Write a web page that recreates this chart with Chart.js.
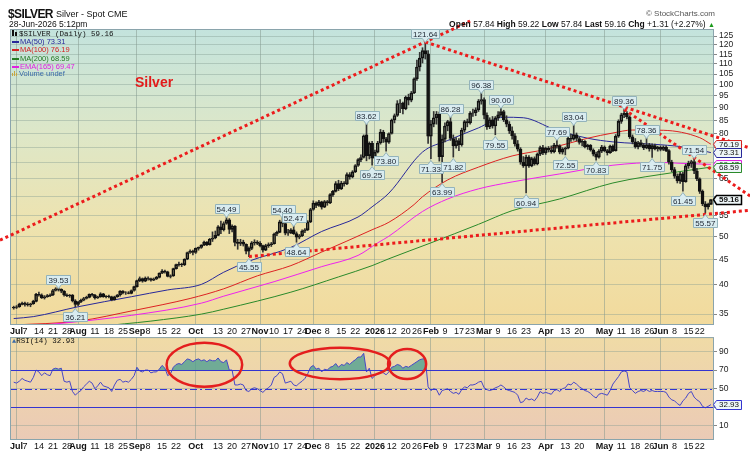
<!DOCTYPE html>
<html>
<head>
<meta charset="utf-8">
<title>$SILVER</title>
<script src="https://cdn.jsdelivr.net/npm/chart.js"></script>
<style>
  html, body { margin: 0; padding: 0; background: #fff; }
  body { position: relative; width: 750px; height: 456px; overflow: hidden; font-family: "Liberation Sans", Arial, sans-serif; color: #111; }
  canvas { position: absolute; left: 0; }
  #priceChart { top: 0; }
  #rsiChart { top: 330px; }
  .txt { position: absolute; white-space: nowrap; line-height: 1; }
  .mono { font-family: "Liberation Mono", "DejaVu Sans Mono", monospace; }
  .dash { display: inline-block; width: 7px; height: 2px; vertical-align: middle; margin-right: 1px; }
</style>
</head>
<body>
<canvas id="priceChart" width="750" height="337"></canvas>
<canvas id="rsiChart" width="750" height="126"></canvas>

<div class="txt" style="left:8px;top:8px;font-size:12px;font-weight:bold;letter-spacing:-0.6px">$SILVER</div>
<div class="txt" style="left:56px;top:10px;font-size:9px">Silver - Spot CME</div>
<div class="txt" style="left:9px;top:20px;font-size:8.5px">28-Jun-2026 5:12pm</div>
<div class="txt" style="right:35px;top:10px;font-size:8px;color:#555">&copy; StockCharts.com</div>
<div class="txt" style="right:35px;top:20px;font-size:8.5px"><b>Open</b> 57.84 <b>High</b> 59.22 <b>Low</b> 57.84 <b>Last</b> 59.16 <b>Chg</b> +1.31 (+2.27%) <span style="color:#1a9a1a;font-size:7px">&#9650;</span></div>

<div class="txt mono" style="left:12px;top:30px;font-size:7.5px"><span style="display:inline-block;width:2px;height:6px;background:#111;margin-right:1px"></span><span style="display:inline-block;width:2px;height:4px;background:#111;margin-right:2px"></span>$SILVER (Daily) 59.16</div>
<div class="txt" style="left:12px;top:38px;font-size:7.5px;color:#28289a"><span class="dash" style="background:#28289a"></span>MA(50) 73.31</div>
<div class="txt" style="left:12px;top:46px;font-size:7.5px;color:#d42020"><span class="dash" style="background:#d42020"></span>MA(100) 76.19</div>
<div class="txt" style="left:12px;top:54.5px;font-size:7.5px;color:#237a23"><span class="dash" style="background:#237a23"></span>MA(200) 68.59</div>
<div class="txt" style="left:12px;top:62.5px;font-size:7.5px;color:#e020e0"><span class="dash" style="background:#e020e0"></span>EMA(165) 69.47</div>
<div class="txt" style="left:12px;top:70px;font-size:7.5px;color:#3a6aa8"><span style="display:inline-block;width:1px;height:3px;background:#c9a640;margin-right:1px"></span><span style="display:inline-block;width:1px;height:5px;background:#c9a640;margin-right:1px"></span><span style="display:inline-block;width:1px;height:3px;background:#c9a640;margin-right:2px"></span>Volume undef</div>
<div class="txt" style="left:135px;top:75px;font-size:14px;font-weight:bold;color:#e21a1a">Silver</div>

<div class="txt mono" style="left:12px;top:338px;font-size:7.5px"><span style="color:#3a6aa8;font-size:7px">&#9650;</span>RSI(14) 32.93</div>

<script>
const FONT = '"Liberation Sans", Arial, sans-serif';

// trading days, Jun 30 2025 .. Jun 26 2026
const holidays = ['2025-07-04', '2025-09-01', '2025-11-27', '2025-12-25', '2026-01-01',
                  '2026-01-19', '2026-02-16', '2026-04-03', '2026-05-25', '2026-06-19'];
const dates = [];
for (let d = new Date(Date.UTC(2025, 5, 30)); d <= new Date(Date.UTC(2026, 5, 26)); d.setUTCDate(d.getUTCDate() + 1)) {
    const s = d.toISOString().slice(0, 10);
    if (d.getUTCDay() === 0 || d.getUTCDay() === 6 || holidays.includes(s)) continue;
    dates.push(s);
}

// x-axis tick labels (date, text); bold ones are month starts
const tickDates = ['2025-07-01', '2025-07-07', '2025-07-14', '2025-07-21', '2025-07-28', '2025-08-01', '2025-08-11', '2025-08-18', '2025-08-25',
    '2025-09-02', '2025-09-08', '2025-09-15', '2025-09-22', '2025-10-01', '2025-10-13', '2025-10-20', '2025-10-27',
    '2025-11-03', '2025-11-10', '2025-11-17', '2025-11-24', '2025-12-01', '2025-12-08', '2025-12-15', '2025-12-22',
    '2026-01-02', '2026-01-12', '2026-01-20', '2026-01-26', '2026-02-02', '2026-02-09', '2026-02-17', '2026-02-23',
    '2026-03-02', '2026-03-09', '2026-03-16', '2026-03-23', '2026-04-01', '2026-04-13', '2026-04-20',
    '2026-05-01', '2026-05-11', '2026-05-18', '2026-05-26', '2026-06-01', '2026-06-08', '2026-06-15', '2026-06-22'];
const tickText = ['Jul', '7', '14', '21', '28', 'Aug', '11', '18', '25', 'Sep', '8', '15', '22', 'Oct', '13', '20', '27',
    'Nov', '10', '17', '24', 'Dec', '8', '15', '22', '2026', '12', '20', '26', 'Feb', '9', '17', '23',
    'Mar', '9', '16', '23', 'Apr', '13', '20', 'May', '11', '18', '26', 'Jun', '8', '15', '22'];
const boldTicks = ['Jul', 'Aug', 'Sep', 'Oct', 'Nov', 'Dec', '2026', 'Feb', 'Mar', 'Apr', 'May', 'Jun'];

const priceTicks = [35, 40, 45, 50, 55, 60, 65, 70, 75, 80, 85, 90, 95, 100, 105, 110, 115, 120, 125];
const hiddenPriceTicks = [60, 70, 75];
const rsiTicks = [10, 30, 50, 70, 90];

// daily OHLC
const opens = [
    36.0, 36.1, 36.2, 36.6, 36.8, 36.6, 36.5, 36.7, 37.1, 38.3, 38.2, 37.7, 37.9, 38.1, 38.2, 39.0, 39.3, 39.2, 38.9, 38.2,
    38.1, 38.2, 37.2, 36.6, 37.0, 37.3, 37.6, 37.8, 38.3, 38.2, 37.7, 37.9, 38.4, 37.9, 38.0, 37.9, 37.4, 37.9, 38.2, 38.9,
    38.6, 38.6, 38.5, 39.0, 39.7, 40.8, 41.2, 40.7, 41.3, 41.2, 40.9, 41.1, 41.4, 42.2, 42.6, 42.5, 41.6, 41.7, 43.1, 43.9,
    44.0, 43.9, 45.0, 46.4, 46.7, 46.4, 47.3, 47.5, 48.0, 48.7, 48.1, 49.3, 49.6, 50.2, 52.2, 51.5, 53.0, 53.9, 51.6, 52.4,
    48.6, 48.4, 48.7, 48.2, 46.7, 47.3, 48.5, 48.7, 48.4, 47.9, 46.9, 47.9, 48.1, 48.3, 50.5, 50.9, 53.4, 53.0, 50.7, 50.8,
    51.5, 50.6, 49.8, 50.1, 51.2, 51.5, 53.4, 56.5, 58.2, 57.6, 58.5, 57.1, 58.6, 58.2, 60.5, 61.4, 63.6, 62.1, 63.8, 63.5,
    66.3, 65.6, 67.1, 69.1, 71.0, 71.7, 79.5, 72.3, 76.5, 71.5, 73.5, 76.6, 80.5, 78.1, 76.9, 80.0, 85.1, 86.9, 91.8, 92.0,
    89.6, 94.4, 93.2, 96.3, 102.8, 108.5, 113.0, 117.0, 115.2, 79.0, 83.5, 86.0, 87.5, 72.0, 78.0, 82.8, 84.5, 78.2, 75.6, 77.5,
    76.0, 81.2, 84.5, 84.0, 87.8, 88.0, 89.2, 92.8, 93.5, 87.0, 82.5, 85.2, 82.8, 86.0, 87.2, 88.5, 85.2, 83.5, 81.0, 79.2,
    76.3, 74.5, 70.2, 69.0, 71.8, 69.0, 71.3, 69.6, 72.8, 75.0, 73.2, 74.8, 74.2, 73.6, 75.9, 75.6, 73.5, 74.5, 74.8, 78.3,
    78.0, 79.5, 78.2, 76.8, 77.2, 75.3, 75.8, 74.2, 72.8, 71.8, 73.8, 75.2, 74.0, 73.3, 75.5, 74.0, 79.0, 84.6, 87.2, 87.8,
    86.3, 78.8, 77.0, 75.3, 76.8, 75.8, 74.9, 76.0, 74.6, 75.7, 74.6, 75.1, 74.4, 75.2, 74.0, 70.2, 67.8, 65.8, 64.4, 66.5,
    64.2, 69.0, 69.8, 70.4, 67.4, 65.0, 61.4, 58.0, 57.2, 57.84];
const highs = [
    36.3, 36.4, 36.8, 37.0, 37.0, 36.9, 36.8, 37.3, 38.5, 38.7, 38.4, 38.1, 38.3, 38.4, 39.2, 39.5, 39.53, 39.3, 39.0, 38.4,
    38.3, 38.3, 37.4, 37.1, 37.5, 37.8, 38.0, 38.4, 38.5, 38.3, 38.0, 38.6, 38.5, 38.1, 38.2, 38.0, 38.0, 38.3, 39.0, 39.0,
    38.8, 38.8, 39.1, 39.8, 40.9, 41.5, 41.3, 41.5, 41.5, 41.3, 41.3, 41.6, 42.3, 42.9, 42.8, 42.6, 41.9, 43.2, 44.0, 44.4,
    44.2, 45.1, 46.5, 47.0, 46.9, 47.4, 47.6, 48.1, 48.9, 48.8, 49.5, 51.0, 51.2, 52.5, 53.6, 53.4, 54.49, 54.2, 52.7, 52.5,
    49.3, 49.3, 49.1, 48.3, 47.6, 48.8, 49.2, 49.0, 48.8, 48.0, 48.2, 48.5, 48.6, 50.7, 51.2, 53.8, 54.40, 53.2, 51.6, 51.8,
    52.47, 51.0, 50.4, 51.5, 51.8, 53.7, 56.8, 58.8, 58.5, 58.9, 58.7, 58.9, 58.9, 60.8, 61.7, 64.2, 64.6, 64.3, 64.2, 66.8,
    66.9, 67.5, 69.4, 71.3, 72.6, 79.5, 83.62, 77.0, 77.2, 74.2, 77.2, 81.5, 81.2, 78.6, 80.3, 85.5, 87.5, 93.0, 93.5, 92.4,
    95.0, 95.8, 97.0, 103.2, 112.0, 116.0, 118.5, 121.64, 117.0, 85.0, 88.5, 88.5, 88.3, 79.5, 84.0, 85.0, 86.28, 79.5, 78.5, 78.2,
    82.0, 85.0, 85.5, 88.5, 89.5, 90.0, 93.5, 96.38, 94.2, 88.0, 86.0, 86.5, 86.5, 88.5, 90.00, 89.0, 86.8, 84.5, 82.5, 80.0,
    77.5, 75.0, 72.0, 72.5, 72.3, 71.8, 71.9, 73.2, 75.5, 75.8, 75.2, 75.4, 75.6, 76.5, 77.69, 76.0, 75.0, 75.2, 78.8, 79.8,
    83.04, 80.2, 78.8, 77.8, 77.5, 76.2, 76.1, 74.6, 73.5, 74.3, 75.8, 75.6, 74.4, 75.9, 76.0, 79.6, 85.2, 87.8, 89.36, 88.5,
    86.8, 79.5, 78.2, 77.2, 77.6, 76.5, 78.36, 76.5, 76.3, 76.2, 75.5, 75.6, 75.6, 75.6, 74.3, 70.8, 68.5, 66.5, 67.0, 67.0,
    69.5, 70.5, 70.8, 71.54, 68.2, 65.3, 61.8, 58.6, 58.2, 59.22];
const lows = [
    35.8, 35.9, 36.1, 36.5, 36.3, 36.3, 36.2, 36.6, 37.0, 38.0, 37.6, 37.5, 37.8, 37.9, 38.1, 38.9, 38.9, 38.6, 38.0, 37.9,
    37.8, 37.0, 36.21, 36.4, 36.9, 37.2, 37.5, 37.7, 38.0, 37.5, 37.6, 37.8, 37.8, 37.7, 37.7, 37.2, 37.3, 37.8, 38.0, 38.4,
    38.3, 38.4, 38.4, 38.9, 39.6, 40.6, 40.5, 40.6, 40.9, 40.7, 40.8, 41.0, 41.3, 42.1, 42.2, 41.5, 41.3, 41.6, 43.0, 43.6,
    43.5, 43.7, 44.9, 46.2, 45.9, 46.2, 46.9, 47.3, 47.9, 47.9, 48.0, 48.8, 49.4, 50.1, 50.6, 51.2, 52.8, 50.6, 51.0, 47.8,
    47.1, 47.9, 47.8, 46.1, 45.55, 47.0, 48.0, 48.1, 47.6, 46.5, 46.8, 47.5, 47.7, 48.2, 50.1, 50.8, 52.2, 50.3, 50.2, 50.6,
    50.4, 48.64, 49.4, 49.9, 50.8, 51.3, 53.2, 56.3, 57.0, 57.3, 56.6, 57.0, 57.6, 58.0, 60.0, 61.2, 61.6, 61.9, 62.9, 63.3,
    64.9, 65.3, 66.9, 68.8, 70.3, 71.5, 70.6, 71.2, 69.25, 71.2, 73.2, 76.2, 76.8, 73.80, 76.5, 79.8, 84.0, 86.5, 88.0, 87.5,
    89.2, 91.2, 92.5, 96.0, 102.0, 106.5, 110.5, 112.5, 76.5, 71.33, 82.5, 83.5, 70.5, 63.99, 77.0, 81.0, 77.5, 71.82, 74.8, 74.0,
    75.5, 80.5, 82.5, 83.5, 86.5, 86.8, 88.5, 91.5, 85.5, 81.5, 81.8, 82.0, 79.55, 85.0, 86.5, 84.5, 82.5, 80.0, 78.0, 75.5,
    73.8, 69.5, 68.5, 60.94, 68.5, 68.7, 69.2, 69.3, 72.3, 72.6, 72.7, 73.5, 73.1, 73.2, 74.8, 72.9, 72.8, 72.55, 74.6, 77.2,
    77.6, 77.3, 76.2, 75.6, 74.9, 74.4, 73.8, 72.2, 70.83, 71.5, 73.3, 73.6, 72.5, 73.0, 73.6, 73.8, 78.6, 83.8, 86.0, 85.5,
    78.2, 76.3, 74.8, 74.6, 75.3, 74.3, 74.6, 73.8, 71.75, 74.2, 73.8, 73.9, 74.0, 73.6, 69.5, 67.2, 65.2, 63.8, 63.7, 61.45,
    64.0, 68.2, 68.5, 66.6, 64.5, 60.8, 57.5, 55.57, 56.6, 57.84];
const closes = [
    36.1, 36.2, 36.6, 36.8, 36.6, 36.5, 36.7, 37.1, 38.3, 38.2, 37.7, 37.9, 38.1, 38.2, 39.0, 39.3, 39.2, 38.9, 38.2, 38.1,
    38.2, 37.2, 36.6, 37.0, 37.3, 37.6, 37.8, 38.3, 38.2, 37.7, 37.9, 38.4, 37.9, 38.0, 37.9, 37.4, 37.9, 38.2, 38.9, 38.6,
    38.6, 38.5, 39.0, 39.7, 40.8, 41.2, 40.7, 41.3, 41.2, 40.9, 41.1, 41.4, 42.2, 42.6, 42.5, 41.6, 41.7, 43.1, 43.9, 44.0,
    43.9, 45.0, 46.4, 46.7, 46.4, 47.3, 47.5, 48.0, 48.7, 48.1, 49.3, 49.6, 50.2, 52.2, 51.5, 53.0, 53.9, 51.6, 52.4, 48.6,
    48.4, 48.7, 48.2, 46.7, 47.3, 48.5, 48.7, 48.4, 47.9, 46.9, 47.9, 48.1, 48.3, 50.5, 50.9, 53.4, 53.0, 50.7, 50.8, 51.5,
    50.6, 49.8, 50.1, 51.2, 51.5, 53.4, 56.5, 58.2, 57.6, 58.5, 57.1, 58.6, 58.2, 60.5, 61.4, 63.6, 62.1, 63.8, 63.5, 66.3,
    65.6, 67.1, 69.1, 71.0, 71.7, 79.2, 72.3, 76.5, 71.5, 73.5, 76.6, 80.5, 78.1, 76.9, 80.0, 85.1, 86.9, 91.8, 92.0, 89.6,
    94.4, 93.2, 96.3, 102.8, 108.5, 113.0, 117.0, 115.2, 79.0, 83.5, 86.0, 87.5, 72.0, 78.0, 82.8, 84.5, 78.2, 75.6, 77.5, 76.0,
    81.2, 84.5, 84.0, 87.8, 88.0, 89.2, 92.8, 93.5, 87.0, 82.5, 85.2, 82.8, 86.0, 87.2, 88.5, 85.2, 83.5, 81.0, 79.2, 76.3,
    74.5, 70.2, 69.0, 71.8, 69.0, 71.3, 69.6, 72.8, 75.0, 73.2, 74.8, 74.2, 73.6, 75.9, 75.6, 73.5, 74.5, 74.8, 78.3, 78.0,
    79.5, 78.2, 76.8, 77.2, 75.3, 75.8, 74.2, 72.8, 71.8, 73.8, 75.2, 74.0, 73.3, 75.5, 74.0, 79.0, 84.6, 87.2, 87.8, 86.3,
    78.8, 77.0, 75.3, 76.8, 75.8, 74.9, 76.0, 74.6, 75.7, 74.6, 75.1, 74.4, 75.2, 74.0, 70.2, 67.8, 65.8, 64.4, 66.5, 64.2,
    69.0, 69.8, 70.4, 67.4, 65.0, 61.4, 58.0, 57.2, 57.85, 59.16];

// moving averages: [day index, value]
const ma50 = [[0, 34.3], [7, 34.6], [23, 36.2], [42, 37.9], [55, 39.1], [67, 40.1], [75, 42.4], [84, 44.6], [99, 47.5],
    [110, 51.1], [123, 54.6], [128, 57.2], [134, 60.9], [146, 73.5], [155, 77.5], [166, 82.1], [175, 86.2], [182, 86.0],
    [193, 81.6], [205, 78.3], [214, 77.0], [231, 76.0], [241, 75.0], [249, 73.31]];
const ma100 = [[0, 33.3], [23, 33.9], [43, 35.6], [63, 37.6], [75, 39.3], [87, 41.7], [99, 43.7], [110, 46.5], [119, 48.9],
    [128, 51.5], [134, 53.3], [143, 57.8], [146, 59.9], [155, 64.7], [166, 68.6], [178, 72.2], [190, 74.4], [205, 78.3],
    [214, 80.2], [221, 81.3], [232, 81.2], [245, 78.5], [249, 76.19]];
const ma200 = [[0, 30.5], [30, 33.0], [49, 33.9], [67, 35.0], [75, 35.8], [99, 38.7], [116, 41.5], [128, 43.7], [134, 45.1],
    [149, 48.5], [166, 52.8], [178, 56.2], [195, 59.3], [214, 63.8], [237, 67.1], [249, 68.59]];
const ema165 = [[0, 32.9], [18, 33.6], [42, 34.8], [67, 36.8], [75, 38.0], [93, 40.6], [110, 43.5], [123, 45.8], [130, 48.5],
    [134, 50.0], [146, 56.0], [155, 59.3], [166, 62.1], [178, 64.1], [195, 66.5], [214, 69.2], [231, 70.1], [238, 69.8], [249, 69.47]];

// RSI(14), one value per day
const rsi = [
    57, 56, 58, 61, 59, 58, 57, 62, 70, 68, 64, 67, 65, 64, 71, 72, 71, 72, 58, 57,
    58, 47, 43, 46, 48, 52, 55, 58, 56, 50, 53, 57, 53, 52, 51, 47, 54, 59, 60, 57,
    58, 57, 60, 64, 73, 69, 68, 70, 70, 67, 68, 68, 71, 75, 72, 64, 66, 73, 76, 77,
    76, 79, 82, 81, 79, 81, 82, 80, 81, 79, 81, 80, 80, 83, 79, 78, 81, 70, 70, 54,
    54, 55, 54, 48, 47, 50, 51, 50, 48, 46, 49, 51, 54, 62, 64, 68, 66, 56, 57, 58,
    54, 53, 56, 58, 61, 66, 73, 75, 71, 72, 68, 71, 70, 73, 74, 77, 73, 76, 75, 78,
    76, 79, 81, 84, 84, 88, 68, 72, 61, 64, 66, 68, 67, 65, 68, 73, 74, 76, 75, 72,
    74, 73, 75, 77, 79, 81, 82, 82, 52, 48, 50, 49, 43, 48, 49, 50, 47, 45, 46, 44,
    49, 52, 51, 54, 54, 55, 57, 58, 51, 49, 48, 49, 51, 52, 54, 52, 49, 48, 47, 46,
    43, 35, 36, 40, 38, 39, 37, 41, 47, 45, 46, 45, 44, 48, 49, 47, 50, 51, 55, 54,
    57, 55, 52, 50, 48, 47, 45, 42, 40, 44, 45, 44, 43, 48, 55, 59, 63, 68, 69, 68,
    51, 48, 45, 47, 48, 47, 49, 47, 48, 47, 47, 47, 47, 46, 41, 38, 37, 34, 32, 37,
    40, 45, 47, 41, 38, 36, 31, 29.5, 31, 32.93];

// annotations: [day index, price]
const peakTags = [[16, 39.53], [76, 54.49], [96, 54.40], [100, 52.47], [126, 83.62], [147, 121.64], [156, 86.28], [167, 96.38],
    [174, 90.00], [194, 77.69], [200, 83.04], [218, 89.36], [226, 78.36], [243, 71.54]];
const troughTags = [[22, 36.21], [84, 45.55], [101, 48.64], [128, 69.25], [133, 73.80], [149, 71.33], [153, 63.99], [157, 71.82],
    [172, 79.55], [183, 60.94], [197, 72.55], [208, 70.83], [228, 71.75], [239, 61.45], [247, 55.57]];
const trendLines = [[[-4.9, 49.1], [163, 133.9]], [[147, 121.64], [263, 74.85]], [[218, 89.36], [263, 60.1]], [[84, 45.55], [263, 56.3]]];
const lastValues = [[76.19, '#d42020'], [73.31, '#28289a'], [69.47, '#e020e0'], [68.59, '#2a8a2a'], [59.16, '#000']];
// RSI circles: [center day, center rsi, half-width days, half-height rsi]
const rsiCircles = [[68.1, 75.7, 13.5, 23.6], [116.5, 77, 17.9, 16.9], [140.5, 76.4, 6.8, 16.1]];

const tickIdx = tickDates.map(d => dates.indexOf(d));
const isBold = v => boldTicks.includes(tickText[tickIdx.indexOf(v)]);
const xMin = -1.32, xMax = 250.1;

function xAxis(h) {
    return {
        type: 'linear', min: xMin, max: xMax, offset: false,
        afterBuildTicks: s => { s.ticks = tickIdx.map(v => ({ value: v })); },
        afterFit: s => { s.height = h; },
        grid: {
            offset: false, drawTicks: false,
            color: c => (c.tick && isBold(c.tick.value)) ? 'rgba(130,150,140,0.5)' : 'rgba(0,0,0,0)'
        },
        border: { display: false },
        ticks: {
            autoSkip: false, maxRotation: 0, padding: 1, color: '#111',
            font: c => ({ family: FONT, size: 9, weight: (c.tick && isBold(c.tick.value)) ? 'bold' : 'normal' }),
            callback: v => tickText[tickIdx.indexOf(v)]
        }
    };
}

function yAxis(opts, hidden) {
    return Object.assign({
        position: 'right',
        afterFit: s => { s.width = 36; },
        grid: { color: 'rgba(130,155,145,0.4)', tickLength: 3, tickColor: '#888' },
        border: { display: false },
        ticks: { padding: 2, color: '#222', font: { family: FONT, size: 8.5 }, callback: v => hidden.includes(v) ? '' : String(v) }
    }, opts);
}

const panel = {
    id: 'panel',
    beforeDraw(chart, args, o) {
        const { ctx, chartArea: a } = chart;
        const g = ctx.createLinearGradient(0, a.top, 0, a.bottom);
        o.stops.forEach(s => g.addColorStop(s[0], s[1]));
        ctx.save();
        ctx.fillStyle = g;
        ctx.fillRect(a.left, a.top, a.right - a.left, a.bottom - a.top);
        ctx.restore();
    },
    afterDraw(chart) {
        const { ctx, chartArea: a } = chart;
        ctx.save();
        ctx.strokeStyle = '#8aa4ac';
        ctx.lineWidth = 1;
        ctx.strokeRect(a.left + 0.5, a.top + 0.5, a.right - a.left - 1, a.bottom - a.top - 1);
        ctx.restore();
    }
};

function tag(ctx, x, y, text, above) {
    ctx.font = '8px ' + FONT;
    const w = Math.round(ctx.measureText(text).width + 4), h = 9;
    const bx = Math.round(x - w / 2) + 0.5;
    const by = above ? Math.round(y - 4 - h) + 0.5 : Math.round(y + 5) + 0.5;
    ctx.fillStyle = '#d9ecf0';
    ctx.strokeStyle = '#93b3bb';
    ctx.lineWidth = 1;
    ctx.beginPath();
    ctx.moveTo(bx, by);
    if (!above) { ctx.lineTo(x - 3, by); ctx.lineTo(x, by - 4); ctx.lineTo(x + 3, by); }
    ctx.lineTo(bx + w, by);
    ctx.lineTo(bx + w, by + h);
    if (above) { ctx.lineTo(x + 3, by + h); ctx.lineTo(x, by + h + 4); ctx.lineTo(x - 3, by + h); }
    ctx.lineTo(bx, by + h);
    ctx.closePath();
    ctx.fill();
    ctx.stroke();
    ctx.fillStyle = '#1c2430';
    ctx.textAlign = 'center';
    ctx.textBaseline = 'middle';
    ctx.fillText(text, x, by + h / 2 + 0.5);
}

function sideBox(ctx, y, text, color, bold) {
    ctx.font = (bold ? 'bold ' : '') + '8px ' + FONT;
    const x0 = 716.5, w = 25, h = 9, top = Math.round(y - h / 2) + 0.5;
    ctx.fillStyle = '#eef6f8';
    ctx.strokeStyle = color;
    ctx.lineWidth = bold ? 1.5 : 1;
    ctx.beginPath();
    ctx.moveTo(x0, top);
    ctx.lineTo(x0 + w, top);
    ctx.lineTo(x0 + w, top + h);
    ctx.lineTo(x0, top + h);
    ctx.lineTo(x0 - 3, y);
    ctx.closePath();
    ctx.fill();
    ctx.stroke();
    ctx.fillStyle = '#111';
    ctx.textAlign = 'center';
    ctx.textBaseline = 'middle';
    ctx.fillText(text, x0 + w / 2, y + 0.5);
}

const notes = {
    id: 'notes',
    afterDraw(chart) {
        const { ctx, scales: { x, y } } = chart;
        ctx.save();
        // red dotted trend lines
        ctx.strokeStyle = '#ec1c1c';
        ctx.lineWidth = 3;
        ctx.setLineDash([3, 3]);
        trendLines.forEach(l => {
            ctx.beginPath();
            ctx.moveTo(x.getPixelForValue(l[0][0]), y.getPixelForValue(l[0][1]));
            ctx.lineTo(x.getPixelForValue(l[1][0]), y.getPixelForValue(l[1][1]));
            ctx.stroke();
        });
        ctx.setLineDash([]);
        peakTags.forEach(p => tag(ctx, x.getPixelForValue(p[0]), y.getPixelForValue(p[1]), p[1].toFixed(2), true));
        troughTags.forEach(p => tag(ctx, x.getPixelForValue(p[0]), y.getPixelForValue(p[1]), p[1].toFixed(2), false));
        lastValues.forEach(v => sideBox(ctx, y.getPixelForValue(v[0]), v[0].toFixed(2), v[1], v[1] === '#000'));
        ctx.restore();
    }
};

const rsiNotes = {
    id: 'rsiNotes',
    afterDatasetsDraw(chart) {
        const { ctx, chartArea: a, scales: { y } } = chart;
        ctx.save();
        ctx.strokeStyle = '#3434d0';
        ctx.lineWidth = 1;
        [70, 30].forEach(v => {
            const py = Math.round(y.getPixelForValue(v)) + 0.5;
            ctx.beginPath(); ctx.moveTo(a.left, py); ctx.lineTo(a.right, py); ctx.stroke();
        });
        ctx.setLineDash([7, 3, 2, 3]);
        const p50 = Math.round(y.getPixelForValue(50)) + 0.5;
        ctx.beginPath(); ctx.moveTo(a.left, p50); ctx.lineTo(a.right, p50); ctx.stroke();
        ctx.restore();
    },
    afterDraw(chart) {
        const { ctx, scales: { x, y } } = chart;
        ctx.save();
        ctx.strokeStyle = '#e41e1e';
        ctx.lineWidth = 2.5;
        rsiCircles.forEach(c => {
            const cx = x.getPixelForValue(c[0]), cy = y.getPixelForValue(c[1]);
            const rx = x.getPixelForValue(c[0] + c[2]) - cx, ry = cy - y.getPixelForValue(c[1] + c[3]);
            ctx.beginPath();
            ctx.ellipse(cx, cy, rx, ry, 0, 0, Math.PI * 2);
            ctx.stroke();
        });
        sideBox(ctx, y.getPixelForValue(rsi[rsi.length - 1]), rsi[rsi.length - 1].toFixed(2), '#3434d0', false);
        ctx.restore();
    }
};

const bodies = opens.map((o, i) => ({ x: i, y: [o, closes[i]] }));
const upperWicks = highs.map((h, i) => ({ x: i, y: [Math.max(opens[i], closes[i]), h] }));
const lowerWicks = lows.map((l, i) => ({ x: i, y: [l, Math.min(opens[i], closes[i])] }));
const maLine = (pts, color) => ({
    type: 'line', data: pts.map(p => ({ x: p[0], y: p[1] })), borderColor: color, borderWidth: 1,
    pointRadius: 0, cubicInterpolationMode: 'monotone', order: 3
});

new Chart(document.getElementById('priceChart'), {
    type: 'bar',
    data: {
        datasets: [
            maLine(ma200, '#2a8a2a'),
            maLine(ema165, '#ee22ee'),
            maLine(ma100, '#dd2222'),
            maLine(ma50, '#28289a'),
            { data: upperWicks, backgroundColor: '#333', barThickness: 1, grouped: false, order: 1 },
            { data: lowerWicks, backgroundColor: '#333', barThickness: 1, grouped: false, order: 1 },
            {
                data: bodies, barThickness: 3, grouped: false, order: 0, borderWidth: 1, borderSkipped: false,
                borderColor: '#111',
                backgroundColor: bodies.map((b, i) => closes[i] >= opens[i] ? 'rgba(0,0,0,0)' : '#111')
            }
        ]
    },
    options: {
        responsive: false, animation: false, events: [],
        layout: { padding: { left: 10, top: 29, right: 0, bottom: 0 } },
        scales: {
            x: xAxis(12),
            y: yAxis({
                type: 'logarithmic', min: 33.3, max: 129.1,
                afterBuildTicks: s => { s.ticks = priceTicks.map(v => ({ value: v })); }
            }, hiddenPriceTicks)
        },
        plugins: {
            legend: { display: false }, tooltip: { enabled: false },
            panel: { stops: [[0, '#c3e3dd'], [0.35, '#dde7c8'], [0.65, '#ede3b0'], [1, '#f2da9c']] }
        }
    },
    plugins: [panel, notes]
});

new Chart(document.getElementById('rsiChart'), {
    type: 'line',
    data: {
        datasets: [{
            data: rsi.map((v, i) => ({ x: i, y: v })),
            borderColor: '#4646c8', borderWidth: 1, pointRadius: 0, tension: 0,
            fill: { target: { value: 70 }, above: 'rgba(80,160,145,0.8)', below: 'rgba(0,0,0,0)' }
        }]
    },
    options: {
        responsive: false, animation: false, events: [],
        layout: { padding: { left: 10, top: 7, right: 0, bottom: 0 } },
        scales: {
            x: xAxis(16),
            y: yAxis({
                type: 'linear', min: -5.1, max: 105.4,
                afterBuildTicks: s => { s.ticks = rsiTicks.map(v => ({ value: v })); }
            }, [30])
        },
        plugins: {
            legend: { display: false }, tooltip: { enabled: false },
            panel: { stops: [[0, '#f0dba6'], [1, '#ebcab6']] }
        }
    },
    plugins: [panel, rsiNotes]
});
</script>
</body>
</html>
